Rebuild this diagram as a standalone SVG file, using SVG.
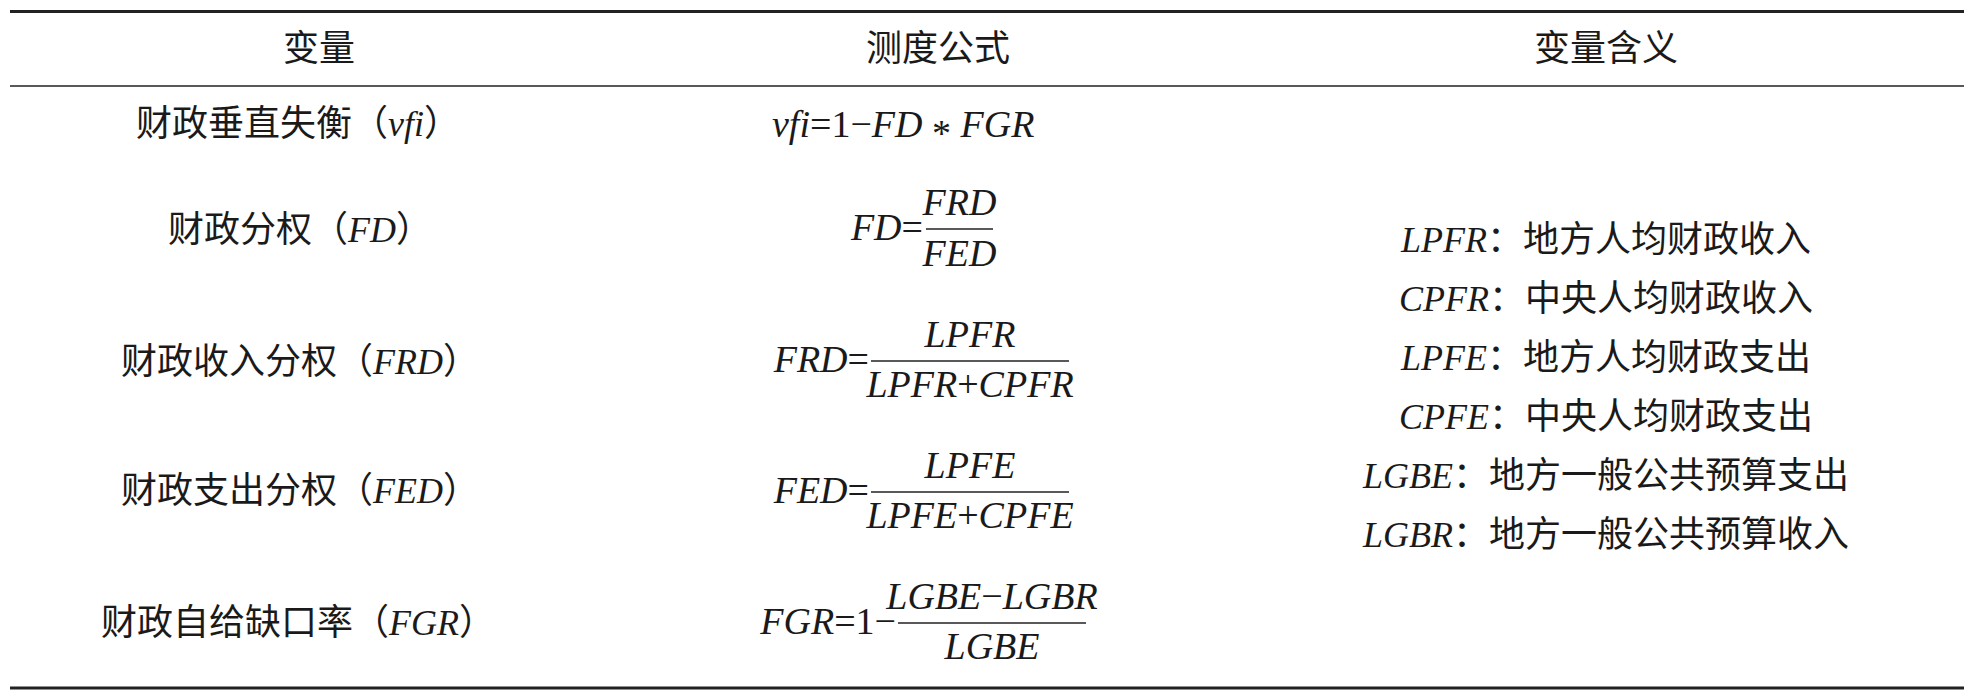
<svg xmlns="http://www.w3.org/2000/svg" width="1971" height="692" viewBox="0 0 1971 692">
<style>
  .t { font-family: "Liberation Serif", "Noto Sans CJK SC", serif; font-size: 36px; fill: #1a1a1a; }
  .m { font-family: "Liberation Serif", "Noto Sans CJK SC", serif; font-size: 38px; fill: #1a1a1a; }
  .i { font-style: italic; }
  .c { text-anchor: middle; }
  .e { text-anchor: end; }
  .rule { stroke: #222; fill: none; }
  .bar { stroke: #222; stroke-width: 1.6; }
</style>
<rect width="1971" height="692" fill="#ffffff"/>
<g id="rules">
  <line class="rule" x1="10" y1="11.5" x2="1964" y2="11.5" stroke-width="3"/>
  <line class="rule" x1="10" y1="86" x2="1964" y2="86" stroke-width="1.6"/>
  <line class="rule" x1="10" y1="688" x2="1964" y2="688" stroke-width="3"/>
</g>
<g id="header">
  <text class="t c" x="319" y="61">变量</text>
  <text class="t c" x="938" y="61">测度公式</text>
  <text class="t c" x="1606" y="61">变量含义</text>
</g>
<g id="row-vfi">
  <text class="t c" x="298" y="136">财政垂直失衡（<tspan class="i">vfi</tspan>）</text>
  <text class="m" x="772" y="137"><tspan class="i">vfi</tspan>=1−<tspan class="i">FD</tspan> <tspan dy="9">*</tspan> <tspan dy="-9" class="i">FGR</tspan></text>
</g>
<g id="row-fd">
  <text class="t c" x="300" y="242">财政分权（<tspan class="i">FD</tspan>）</text>
  <text class="m e" x="923" y="240"><tspan class="i">FD</tspan>=</text>
  <line class="bar" x1="926" y1="229" x2="993" y2="229"/>
  <text class="m c i" x="959.5" y="215">FRD</text>
  <text class="m c i" x="959.5" y="266">FED</text>
</g>
<g id="row-frd">
  <text class="t c" x="300" y="374">财政收入分权（<tspan class="i">FRD</tspan>）</text>
  <text class="m e" x="869" y="372"><tspan class="i">FRD</tspan>=</text>
  <line class="bar" x1="871" y1="361" x2="1069" y2="361"/>
  <text class="m c i" x="970" y="347">LPFR</text>
  <text class="m c" x="970" y="397"><tspan class="i">LPFR</tspan>+<tspan class="i">CPFR</tspan></text>
</g>
<g id="row-fed">
  <text class="t c" x="300" y="503">财政支出分权（<tspan class="i">FED</tspan>）</text>
  <text class="m e" x="869" y="503"><tspan class="i">FED</tspan>=</text>
  <line class="bar" x1="871" y1="492" x2="1069" y2="492"/>
  <text class="m c i" x="970" y="478">LPFE</text>
  <text class="m c" x="970" y="528"><tspan class="i">LPFE</tspan>+<tspan class="i">CPFE</tspan></text>
</g>
<g id="row-fgr">
  <text class="t c" x="298" y="635">财政自给缺口率（<tspan class="i">FGR</tspan>）</text>
  <text class="m e" x="896" y="634"><tspan class="i">FGR</tspan>=1−</text>
  <line class="bar" x1="898" y1="623" x2="1086" y2="623"/>
  <text class="m c" x="992" y="609"><tspan class="i">LGBE</tspan>−<tspan class="i">LGBR</tspan></text>
  <text class="m c i" x="992" y="659">LGBE</text>
</g>
<g id="definitions">
  <text class="t c" x="1606" y="252"><tspan class="i">LPFR</tspan>：地方人均财政收入</text>
  <text class="t c" x="1606" y="311"><tspan class="i">CPFR</tspan>：中央人均财政收入</text>
  <text class="t c" x="1606" y="370"><tspan class="i">LPFE</tspan>：地方人均财政支出</text>
  <text class="t c" x="1606" y="429"><tspan class="i">CPFE</tspan>：中央人均财政支出</text>
  <text class="t c" x="1606" y="488"><tspan class="i">LGBE</tspan>：地方一般公共预算支出</text>
  <text class="t c" x="1606" y="547"><tspan class="i">LGBR</tspan>：地方一般公共预算收入</text>
</g>
</svg>
